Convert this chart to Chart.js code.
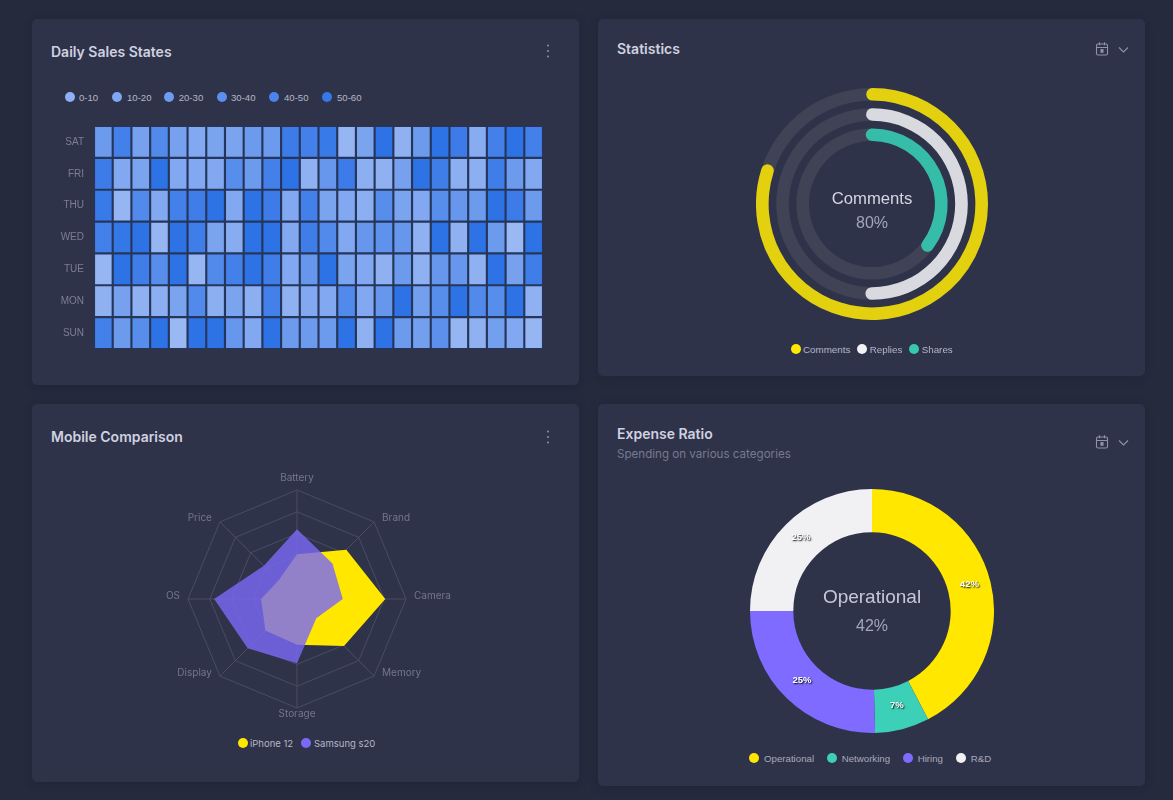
<!DOCTYPE html>
<html><head><meta charset="utf-8">
<script src="https://cdn.jsdelivr.net/npm/chart.js@4"></script>
<style>
html,body{margin:0;padding:0;background:#252a3d;width:1173px;height:800px;overflow:hidden}
.card{position:absolute;background:#2f3349;border-radius:5px;box-shadow:0 2px 8px rgba(20,24,40,.25)}
.title{position:absolute;font:600 14px Inter,sans-serif;color:#cfd1e0;white-space:nowrap;transform:translateY(-50%)}
.sub{position:absolute;font:400 11.6px Inter,sans-serif;color:#767a90;white-space:nowrap;transform:translateY(-50%)}
canvas{position:absolute}
.lg{position:absolute;white-space:nowrap;transform:translateY(-50%)}
.dot{position:absolute;border-radius:50%;transform:translate(-50%,-50%)}
.ct{position:absolute;font-family:"Liberation Sans",Arial,sans-serif;text-align:center;transform:translate(-50%,-50%);white-space:nowrap}
svg{position:absolute}
</style></head><body>
<div class="card" style="left:32px;top:19px;width:547px;height:366px"></div>
<div class="card" style="left:598px;top:19px;width:547px;height:357px"></div>
<div class="card" style="left:32px;top:404px;width:547px;height:378px"></div>
<div class="card" style="left:598px;top:404px;width:547px;height:382px"></div>
<div class="title" style="left:51px;top:51px">Daily Sales States</div>
<div class="title" style="left:617px;top:48px">Statistics</div>
<div class="title" style="left:51px;top:436px">Mobile Comparison</div>
<div class="title" style="left:617px;top:433px">Expense Ratio</div>
<div class="sub" style="left:617px;top:454px">Spending on various categories</div>
<canvas id="heat" width="503" height="223" style="left:40px;top:126px"></canvas>
<canvas id="stats" width="232" height="232" style="left:756px;top:88px"></canvas>
<canvas id="radar" width="400" height="270" style="left:97px;top:464px"></canvas>
<canvas id="exp" width="244" height="244" style="left:750px;top:489px"></canvas>
<div class="ct" style="left:872px;top:198.5px;font-size:16.7px;color:#d4d6e4">Comments</div>
<div class="ct" style="left:872px;top:223px;font-size:16px;color:#a2a5bd">80%</div>
<div class="ct" style="left:872px;top:596.5px;font-size:19px;color:#c6c8da">Operational</div>
<div class="ct" style="left:872px;top:626px;font-size:16px;color:#a2a5bd">42%</div>
<div id="legends"></div>
<div id="icons"></div>
<script>
const days = ['SAT','FRI','THU','WED','TUE','MON','SUN'];
const sat = [25,45,20,38,20,15,18,18,25,25,48,45,50,5,18,55,8,25,55,48,12,45,55,45];
const fri = [48,15,18,55,15,15,15,35,25,45,55,8,28,48,10,8,20,55,47,10,10,47,25,15];
const thu = [50,5,38,15,45,47,55,15,55,48,15,45,18,15,10,35,18,15,35,28,25,55,48,25];
const wed = [45,52,55,5,55,47,18,12,55,55,15,47,38,15,28,32,28,8,55,8,55,25,3,55];
const tue = [5,55,47,35,55,5,38,45,55,47,15,28,55,18,15,8,25,8,28,28,8,55,20,47];
const mon = [8,20,8,10,18,38,10,18,10,45,8,15,15,38,15,28,55,22,35,55,38,35,55,8];
const sun = [45,25,35,55,3,55,55,28,15,55,25,25,25,55,8,55,25,22,33,5,8,22,15,5];
const salesRows = [sat,fri,thu,wed,tue,mon,sun];
const salesRanges = ['0-10','10-20','20-30','30-40','40-50','50-60'];
const rangeColors = ['#8fb0f4','#7ea6f2','#6c9bf0','#5b8fee','#4a84ec','#3678e8'];

const ringLabels = ['Comments','Replies','Shares'];
const ringValues = [80,50,35];
const ringColors = ['#e3d00e','#d9d9e0','#36bda9'];
const legendRingColors = ['#ffe700','#f2f2f6','#36c9b0'];

const radarAxes = ['Battery','Brand','Camera','Memory','Storage','Display','OS','Price'];
const iphone = [41,64,81,61,42,41,33,24];
const samsung = [64,46,42,25,59,64,76,43];

const expenseLabels = ['Operational','Networking','Hiring','R&D'];
const expenseValues = [42.4,7.2,25.4,25];
const expenseText = ['42%','7%','25%','25%'];
const expenseColors = ['#ffe700','#3dd0b8','#7f6bff','#f1f1f4'];

Chart.defaults.animation = false;
Chart.defaults.plugins.legend.display = false;
Chart.defaults.plugins.tooltip.enabled = false;

function cellColor(v){
  const t = Math.min(1, Math.max(0, v/55));
  const a=[160,188,244], b=[46,115,230];
  return 'rgb('+a.map((c,i)=>Math.round(c+(b[i]-c)*t)).join(',')+')';
}
new Chart(document.getElementById('heat'),{
  type:'bar',
  data:{labels:days,datasets:sat.map((_,c)=>({
    data:days.map(()=>1),
    backgroundColor:ctx=>cellColor(salesRows[ctx.dataIndex][c]),
    borderColor:'#26365b',borderWidth:1.4,borderSkipped:false,
    categoryPercentage:1,barPercentage:1
  }))},
  options:{responsive:false,indexAxis:'y',layout:{padding:0},
    scales:{
      x:{stacked:true,display:false,min:0,max:sat.length},
      y:{stacked:true,grid:{display:false},border:{display:false},
        afterFit:s=>{s.width=54;s.paddingTop=0;s.paddingBottom=0;s.paddingLeft=0;s.paddingRight=0},
        ticks:{color:'#7b7e94',padding:2,font:{size:10,family:'"Liberation Sans",Arial,sans-serif'}}}
    }}
});

const trackPlugin={id:'track',beforeDatasetsDraw(chart){
  const c=chart.ctx;
  chart.data.datasets.forEach((d,i)=>{
    if(!d.isRing)return;
    const el=chart.getDatasetMeta(i).data[0];
    c.save();c.beginPath();
    c.arc(el.x,el.y,el.outerRadius,0,Math.PI*2);
    c.arc(el.x,el.y,el.innerRadius,Math.PI*2,0,true);
    c.closePath();c.fillStyle='#404356';c.fill();c.restore();
  });
}};
const ringRot=[-3,-3.8,-5.2];
const ringCirc=[367.5,376,392];
const ringDatasets=[];
ringValues.forEach((v,i)=>{
  ringDatasets.push({isRing:true,data:[v,100-v],weight:12.5,rotation:ringRot[i],circumference:ringCirc[i],
    backgroundColor:[ringColors[i],'rgba(0,0,0,0)'],borderWidth:0,
    borderRadius:ctx=>ctx.dataIndex===0?7:0});
  if(i<ringValues.length-1)ringDatasets.push({data:[1],weight:7.5,backgroundColor:['rgba(0,0,0,0)'],borderWidth:0});
});
new Chart(document.getElementById('stats'),{
  type:'doughnut',plugins:[trackPlugin],
  data:{labels:ringLabels,datasets:ringDatasets},
  options:{responsive:false,cutout:63,layout:{padding:0}}
});

const radarLabels={id:'radarLabels',afterDraw(chart){
  const s=chart.scales.r,c=chart.ctx;
  c.save();c.font='10px Inter,sans-serif';c.fillStyle='#73768c';c.textBaseline='middle';
  radarAxes.forEach((t,i)=>{
    const p=s.getPointPositionForValue(i,s.max),dx=p.x-s.xCenter,dy=p.y-s.yCenter;
    let x=p.x,y=p.y-3.5;
    if(Math.abs(dx)<1){c.textAlign='center';y=p.y+(dy<0?-12:5.5);}
    else if(dx>0){c.textAlign='left';x=p.x+8;}
    else{c.textAlign='right';x=p.x-8;}
    c.fillText(t,x,y);
  });
  c.restore();
}};
new Chart(document.getElementById('radar'),{
  type:'radar',plugins:[radarLabels],
  data:{labels:radarAxes,datasets:[
    {label:'iPhone 12',data:iphone,order:2,backgroundColor:'#ffe700',borderWidth:0,pointRadius:0,fill:true},
    {label:'Samsung s20',data:samsung,order:1,backgroundColor:'rgba(122,105,245,0.82)',borderWidth:0,pointRadius:0,fill:true}
  ]},
  options:{responsive:false,layout:{padding:{top:26,bottom:26}},
    scales:{r:{min:0,max:100,
      ticks:{display:false,stepSize:20},
      grid:{color:'#4a4d61',lineWidth:1},
      angleLines:{color:'#4a4d61',lineWidth:1},
      pointLabels:{display:false}
    }}}
});

const sliceLabels={id:'sliceLabels',afterDatasetsDraw(chart){
  const c=chart.ctx,els=chart.getDatasetMeta(0).data;
  c.save();c.font='bold 9.5px "Liberation Sans",Arial,sans-serif';c.textAlign='center';c.textBaseline='middle';
  els.forEach((el,i)=>{
    const p=el.getCenterPoint();
    c.shadowColor='rgba(0,0,0,0.9)';c.shadowBlur=1.5;c.shadowOffsetX=1;c.shadowOffsetY=1;
    c.fillStyle='#fff';c.fillText(expenseText[i],p.x,p.y-2.5);
  });
  c.restore();
}};
new Chart(document.getElementById('exp'),{
  type:'doughnut',plugins:[sliceLabels],
  data:{labels:expenseLabels,datasets:[{data:expenseValues,backgroundColor:expenseColors,borderWidth:0}]},
  options:{responsive:false,cutout:'64.5%',layout:{padding:0}}
});

function addLegend(items,y,font,color,size){
  const h=document.getElementById('legends');
  items.forEach(it=>{
    const d=document.createElement('div');d.className='dot';
    d.style.cssText='left:'+it.dx+'px;top:'+y+'px;background:'+it.c+';width:'+size+'px;height:'+size+'px';
    h.appendChild(d);
    const t=document.createElement('div');t.className='lg';t.textContent=it.t;
    t.style.cssText='left:'+it.tx+'px;top:'+y+'px;font:'+font+';color:'+color;
    h.appendChild(t);
  });
}
const arial=s=>s+'px "Liberation Sans",Arial,sans-serif', inter='9.5px Inter,sans-serif';
const heatDx=[69.7,116.7,168.7,221.7,273.7,327],heatTx=[79,127,178.7,231,284,337];
addLegend(salesRanges.map((t,i)=>({t,c:rangeColors[i],dx:heatDx[i],tx:heatTx[i]})),97,arial(9.6),'#b4b6c8',10);
const statDx=[795.7,862,914],statTx=[803,869.7,921.7];
addLegend(ringLabels.map((t,i)=>({t,c:legendRingColors[i],dx:statDx[i],tx:statTx[i]})),349,arial(9.8),'#b4b6c8',10);
addLegend([{t:'iPhone 12',c:'#ffe700',dx:242.7,tx:250},{t:'Samsung s20',c:'#7a69f5',dx:306,tx:314}],743,inter,'#b4b6c8',10);
const expDx=[754.3,831.7,908,960.7],expTx=[764,841.7,917.7,970.7];
addLegend(expenseLabels.map((t,i)=>({t,c:expenseColors[i],dx:expDx[i],tx:expTx[i]})),758,arial(9.7),'#a8aabd',10);

const iconColor='#8f92a8';
function dots(x,y){return '<svg style="left:'+(x-3)+'px;top:'+(y-8)+'px" width="6" height="16"><circle cx="3" cy="2.5" r="1" fill="'+iconColor+'"/><circle cx="3" cy="8" r="1" fill="'+iconColor+'"/><circle cx="3" cy="13.5" r="1" fill="'+iconColor+'"/></svg>';}
function cal(x,y){return '<svg style="left:'+(x-7)+'px;top:'+(y-8)+'px" width="36" height="16" fill="none" stroke="'+iconColor+'" stroke-width="1.1"><rect x="1.5" y="3" width="11" height="11" rx="1.5"/><path d="M1.5 6.5h11M4.5 1.2v3M9.5 1.2v3"/><rect x="6" y="8.6" width="2" height="2.6" fill="'+iconColor+'"/><path d="M24 6.5l4.5 4.5 4.5-4.5"/></svg>';}
document.getElementById('icons').innerHTML=dots(548,51)+dots(548,437)+cal(1102,49)+cal(1102,442);
</script>
</body></html>
